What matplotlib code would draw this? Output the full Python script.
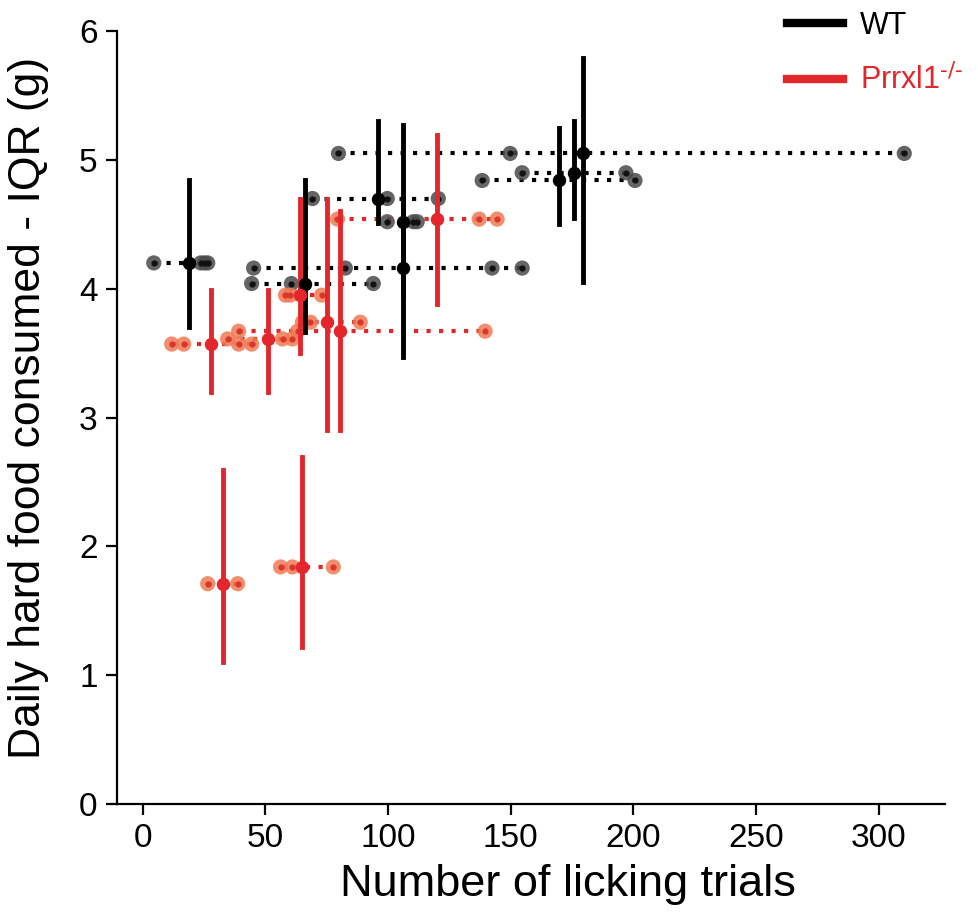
import matplotlib.pyplot as plt

plt.rcParams['font.family'] = ['Liberation Sans', 'DejaVu Sans']

# WT groups: individual licking trials, y (IQR), centre x, error bar lo/hi
wt_x = [[4.5, 23.6, 25.2, 26.5],
        [79.8, 149.8, 310.5],
        [154.7, 197.0],
        [138.4, 200.7],
        [69.2, 99.7, 120.5],
        [99.7, 110.3, 111.9],
        [45.2, 82.6, 142.4, 154.7],
        [44.4, 60.6, 94.0]]
wt_y = [4.20, 5.05, 4.90, 4.84, 4.70, 4.52, 4.16, 4.04]
wt_cx = [18.7, 179.5, 175.8, 169.7, 96.0, 106.2, 106.2, 66.3]
wt_lo = [3.70, 4.05, 4.55, 4.50, 4.51, 3.93, 3.47, 3.66]
wt_hi = [4.84, 5.79, 5.30, 5.25, 5.30, 4.70, 5.27, 4.84]

# Prrxl1-/- groups
ko_x = [[79.4, 137.2, 144.5],
        [58.2, 60.2, 72.9],
        [65.1, 68.4, 88.7],
        [39.1, 63.1, 139.6],
        [11.8, 16.7, 39.1, 44.4],
        [34.6, 57.0, 61.0],
        [26.5, 38.7],
        [56.2, 61.0, 77.7]]
ko_y = [4.54, 3.95, 3.74, 3.67, 3.57, 3.61, 1.71, 1.84]
ko_cx = [120.1, 64.3, 75.3, 80.6, 27.7, 50.9, 32.6, 65.1]
ko_lo = [3.88, 3.50, 2.90, 2.90, 3.20, 3.20, 1.10, 1.22]
ko_hi = [5.19, 4.70, 4.70, 4.60, 3.99, 3.99, 2.59, 2.69]

fig = plt.figure(figsize=(9.79, 9.13), dpi=100)
ax = fig.add_axes([0.1195, 0.1194, 0.8455, 0.8466])


def draw(xs, ys, cxs, los, his, line_c, pt_face, pt_dot):
    for pts, y, cx, lo, hi in zip(xs, ys, cxs, los, his):
        ax.plot([min(pts), max(pts)], [y, y], ls=(0, (1, 2)), lw=3,
                color=line_c, zorder=2)
        ax.scatter(pts, [y] * len(pts), s=120, color=pt_face, alpha=0.85,
                   edgecolors='none', zorder=3)
        ax.scatter(pts, [y] * len(pts), s=12, color=pt_dot, zorder=4)
        ax.plot([cx, cx], [lo, hi], color=line_c, lw=3.5, zorder=5)
        ax.scatter([cx], [y], s=75, color=line_c, zorder=6)


draw(wt_x, wt_y, wt_cx, wt_lo, wt_hi, 'black', '#4a4a4a', '#111111')
draw(ko_x, ko_y, ko_cx, ko_lo, ko_hi, '#e3262b', '#f07a55', '#d8372a')

ax.set_xlim(-10.5, 327)
ax.set_ylim(0, 6)
ax.set_xticks(range(0, 301, 50))
ax.set_yticks(range(0, 7))
for s in ['top', 'right']:
    ax.spines[s].set_visible(False)
for s in ['left', 'bottom']:
    ax.spines[s].set_linewidth(1.6)
ax.tick_params(direction='out', length=8, width=1.6, labelsize=24, pad=6)
ax.set_xlabel('Number of licking trials', fontsize=32.5)
ax.xaxis.set_label_coords(0.545, -0.078)
ax.set_ylabel('Daily hard food consumed - IQR (g)', fontsize=32)
ax.yaxis.set_label_coords(-0.082, 0.513)

h1, = ax.plot([], [], color='black', lw=6, label='WT')
h2, = ax.plot([], [], color='#e3262b', lw=6, label=r'Prrxl1$^{\text{-/-}}$')
leg = ax.legend(handles=[h1, h2], loc='upper left', bbox_to_anchor=(0.776, 1.018),
                bbox_transform=fig.transFigure, frameon=False, fontsize=22,
                handlelength=1.83, handletextpad=0.55, labelspacing=0.76)
leg.get_texts()[1].set_color('#e3262b')

fig.savefig('out.png', dpi=100)
